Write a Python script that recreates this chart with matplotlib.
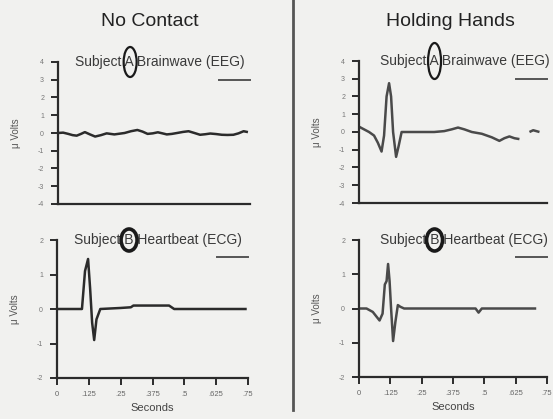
import numpy as np
import matplotlib
matplotlib.use("Agg")
import matplotlib.pyplot as plt
from matplotlib.lines import Line2D
from matplotlib.patches import Ellipse

plt.rcParams['font.family'] = ['Liberation Sans', 'DejaVu Sans']

# ---------------- data ----------------
panel_titles = ["No Contact", "Holding Hands"]
eeg_label = "Brainwave (EEG)"
ecg_label = "Heartbeat (ECG)"

x_ticks = [0, 0.125, 0.25, 0.375, 0.5, 0.625, 0.75]
x_tick_labels = ["0", ".125", ".25", ".375", ".5", ".625", ".75"]
eeg_y_ticks = [-4, -3, -2, -1, 0, 1, 2, 3, 4]
ecg_y_ticks = [-2, -1, 0, 1, 2]

# No contact, subject A brainwave
t_eeg_nc = [0, 0.02, 0.04, 0.057, 0.073, 0.09, 0.105, 0.125, 0.145, 0.168,
            0.19, 0.205, 0.22, 0.24, 0.26, 0.285, 0.31, 0.33, 0.35, 0.37,
            0.39, 0.408, 0.425, 0.445, 0.465, 0.488, 0.51, 0.533, 0.555, 0.575,
            0.595, 0.618, 0.64, 0.662, 0.685, 0.705, 0.725, 0.742]
v_eeg_nc = [0.0, 0.02, -0.05, -0.12, -0.15, -0.05, 0.05, -0.08, -0.2, -0.12,
            -0.02, -0.05, -0.08, -0.04, 0.0, 0.1, 0.17, 0.08, -0.05, -0.02,
            0.04, -0.02, -0.08, -0.05, 0.0, 0.06, 0.1, 0.0, -0.1, -0.07,
            -0.03, -0.06, -0.1, -0.11, -0.1, -0.02, 0.1, 0.05]

# Holding hands, subject A brainwave
t_eeg_hh = [0.0, 0.02, 0.04, 0.06, 0.075, 0.09, 0.1, 0.11, 0.12, 0.128,
            0.136, 0.148, 0.158, 0.17, 0.2, 0.25, 0.3, 0.34, 0.37, 0.395,
            0.42, 0.45, 0.49, 0.53, 0.56, 0.58, 0.6, 0.62, 0.64, 0.655,
            0.68, 0.695, 0.72]
v_eeg_hh = [0.3, 0.15, 0.0, -0.2, -0.6, -1.1, -0.2, 2.0, 2.75, 2.0,
            0.0, -1.4, -0.8, 0.0, 0.0, 0.0, 0.0, 0.05, 0.15, 0.25,
            0.15, 0.0, -0.1, -0.3, -0.5, -0.35, -0.25, -0.35, -0.4, np.nan,
            0.0, 0.1, 0.0]

# No contact, subject B heartbeat
t_ecg_nc = [0.0, 0.05, 0.098, 0.11, 0.122, 0.13, 0.138, 0.146, 0.155, 0.17,
            0.25, 0.29, 0.3, 0.44, 0.46, 0.55, 0.6, 0.745]
v_ecg_nc = [0.0, 0.0, 0.0, 1.1, 1.45, 0.6, -0.4, -0.9, -0.3, 0.0,
            0.03, 0.05, 0.1, 0.1, 0.0, 0.0, 0.0, 0.0]

# Holding hands, subject B heartbeat
t_ecg_hh = [0.0, 0.03, 0.055, 0.082, 0.094, 0.103, 0.11, 0.116, 0.122, 0.128,
            0.136, 0.145, 0.155, 0.165, 0.18, 0.3, 0.465, 0.477, 0.49, 0.6,
            0.707]
v_ecg_hh = [0.0, 0.0, -0.1, -0.35, -0.15, 0.7, 0.8, 1.3, 0.8, 0.0,
            -0.95, -0.4, 0.1, 0.05, 0.0, 0.0, 0.0, -0.12, 0.0, 0.0,
            0.0]

# ---------------- figure ----------------
W, H = 553, 419
DPI = 100
fig = plt.figure(figsize=(W / DPI, H / DPI), dpi=DPI)
fig.patch.set_facecolor('#f1f1ef')

INK = '#2b2b2b'
INK2 = '#4a4a4a'


def px_axes(x0, y0, x1, y1):
    return fig.add_axes([x0 / W, 1 - y1 / H, (x1 - x0) / W, (y1 - y0) / H])


def style(ax, ylim, yticks, show_x):
    ax.set_facecolor('none')
    for s in ['top', 'right']:
        ax.spines[s].set_visible(False)
    for s in ['left', 'bottom']:
        ax.spines[s].set_linewidth(1.6)
        ax.spines[s].set_color(INK)
    ax.set_xlim(0, 0.75)
    ax.set_ylim(*ylim)
    ax.set_yticks(yticks)
    ax.set_yticklabels([str(v) for v in yticks], fontsize=5, color='#777777')
    ax.tick_params(axis='y', direction='out', length=5, width=1.4, color=INK, pad=5)
    if show_x:
        ax.set_xticks(x_ticks)
        ax.set_xticklabels(x_tick_labels, fontsize=5.5, color='#666666')
        ax.tick_params(axis='x', direction='out', length=5, width=1.4, color=INK, pad=4)
        ax.set_xlabel("Seconds", fontsize=8, color='#444444', labelpad=4)
    else:
        ax.set_xticks([])
    ax.set_ylabel("μ Volts", fontsize=7, color='#555555', labelpad=12)


ax_eeg_nc = px_axes(58, 62, 250, 204)
ax_ecg_nc = px_axes(57, 240, 248, 378)
ax_eeg_hh = px_axes(359, 61, 547, 203)
ax_ecg_hh = px_axes(359, 240, 547, 377)

panels = [
    (ax_eeg_nc, t_eeg_nc, v_eeg_nc, (-4, 4), eeg_y_ticks, False, "A", eeg_label, INK),
    (ax_ecg_nc, t_ecg_nc, v_ecg_nc, (-2, 2), ecg_y_ticks, True, "B", ecg_label, INK),
    (ax_eeg_hh, t_eeg_hh, v_eeg_hh, (-4, 4), eeg_y_ticks, False, "A", eeg_label, INK2),
    (ax_ecg_hh, t_ecg_hh, v_ecg_hh, (-2, 2), ecg_y_ticks, True, "B", ecg_label, INK2),
]

texts = []
for ax, t, v, ylim, yt, showx, subj, lab, col in panels:
    style(ax, ylim, yt, showx)
    ax.plot(t, v, color=col, lw=1.8, solid_capstyle='butt', clip_on=False)
    ax.legend([Line2D([], [], color='#555555', lw=1.4)], [''],
              loc='center right', bbox_to_anchor=(1.0, 0.87),
              frameon=False, handlelength=2.2, handletextpad=0,
              borderpad=0, borderaxespad=0)
    txt = ax.text(0.09 if ax in (ax_eeg_nc, ax_ecg_nc) else 0.11, 1.0,
                  f"Subject {subj} {lab}", transform=ax.transAxes,
                  fontsize=10, color='#3a3a3a', ha='left', va='center', clip_on=False)
    texts.append((ax, txt, subj))

# Panel titles
fig.text(150 / W, 1 - 22 / H, panel_titles[0], fontsize=14, color='#222222',
         ha='center', va='center')
fig.text(450 / W, 1 - 22 / H, panel_titles[1], fontsize=14, color='#222222',
         ha='center', va='center')

# Vertical separator
fig.add_artist(Line2D([293 / W, 293 / W], [1 - 0 / H, 1 - 410 / H],
                      transform=fig.transFigure, color='#555555', lw=2))

# Hand-drawn circles around subject letters
fig.canvas.draw()
renderer = fig.canvas.get_renderer()
ellipse_sizes = {"A": (13, 30, 1.6), "B": (16, 22, 2.6)}
for ax, txt, subj in texts:
    bb = txt.get_window_extent(renderer)
    tmp = fig.text(0, 0, "Subject ", fontsize=10)
    pre_w = tmp.get_window_extent(renderer).width
    tmp.remove()
    tmp = fig.text(0, 0, subj, fontsize=10)
    let_w = tmp.get_window_extent(renderer).width
    tmp.remove()
    cx = bb.x0 + pre_w + let_w / 2
    cy = (bb.y0 + bb.y1) / 2
    w, h, lw = ellipse_sizes[subj]
    if ax is ax_eeg_hh:
        h = 36
    fig.add_artist(Ellipse((cx / W, cy / H), w / W, h / H, transform=fig.transFigure,
                           fill=False, edgecolor='#1a1a1a', lw=lw))

fig.savefig("out.png", dpi=DPI, facecolor=fig.get_facecolor())
